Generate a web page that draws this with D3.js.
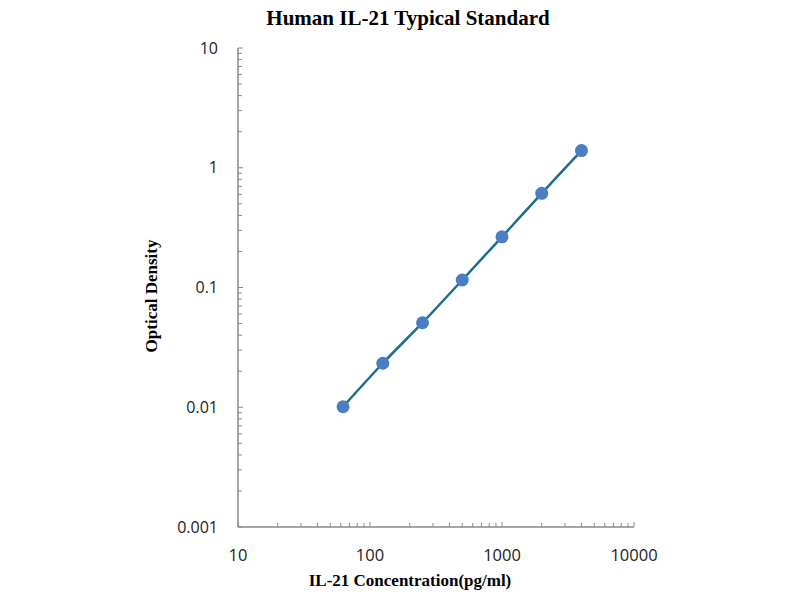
<!DOCTYPE html>
<html>
<head>
<meta charset="utf-8">
<script src="https://cdn.jsdelivr.net/npm/d3@7"></script>
<style>
    body { margin: 0; background: #fff; }
</style>
</head>
<body>
<svg width="800" height="600"></svg>
<script>
    // Data
    const concentration = [62.5, 125, 250, 500, 1000, 2000, 4000]
    const opticalDensity = [0.0101, 0.0233, 0.0508, 0.1155, 0.265, 0.612, 1.39]
    const xTicks = [10, 100, 1000, 10000]
    const yTicks = [0.001, 0.01, 0.1, 1, 10]

    var svg = d3.select("svg")
    var plotLeft = 238, plotRight = 634, plotTop = 48, plotBottom = 527

    var x = d3.scaleLog().domain([10, 10000]).range([plotLeft, plotRight])
    var y = d3.scaleLog().domain([0.001, 10]).range([plotBottom, plotTop])

    // Minor ticks (2..9 within each decade)
    var xMinor = [], yMinor = []
    xTicks.slice(0, -1).forEach(t => { for (var k = 2; k <= 9; k++) xMinor.push(t * k) })
    yTicks.slice(0, -1).forEach(t => { for (var k = 2; k <= 9; k++) yMinor.push(t * k) })

    var axisColor = "#8a8a8a"
    var tickFont = "'Open Sans', sans-serif"

    // y axis
    var gy = svg.append("g").attr("transform", "translate(" + plotLeft + ",0)")
    gy.append("line").attr("y1", plotTop).attr("y2", plotBottom).attr("stroke", axisColor).attr("stroke-width", 1.5)
    gy.selectAll(".minor").data(yMinor).enter().append("line")
        .attr("x1", 0).attr("x2", 4)
        .attr("y1", d => y(d)).attr("y2", d => y(d))
        .attr("stroke", axisColor)
    gy.selectAll(".major").data(yTicks).enter().append("line")
        .attr("x1", 0).attr("x2", 5)
        .attr("y1", d => y(d)).attr("y2", d => y(d))
        .attr("stroke", axisColor)
    gy.selectAll("text").data(yTicks).enter().append("text")
        .attr("x", -20).attr("y", d => y(d)).attr("dy", "0.35em")
        .attr("text-anchor", "end")
        .style("font-family", tickFont).style("font-size", "16px").style("fill", "#222")
        .text(d => String(d))

    // x axis
    var gx = svg.append("g").attr("transform", "translate(0," + plotBottom + ")")
    gx.append("line").attr("x1", plotLeft).attr("x2", plotRight).attr("stroke", axisColor).attr("stroke-width", 1.5)
    gx.selectAll(".minor").data(xMinor).enter().append("line")
        .attr("x1", d => x(d)).attr("x2", d => x(d))
        .attr("y1", 0).attr("y2", -4)
        .attr("stroke", axisColor)
    gx.selectAll(".major").data(xTicks).enter().append("line")
        .attr("x1", d => x(d)).attr("x2", d => x(d))
        .attr("y1", 0).attr("y2", -5)
        .attr("stroke", axisColor)
    gx.selectAll("text").data(xTicks).enter().append("text")
        .attr("x", d => x(d)).attr("y", 34)
        .attr("text-anchor", "middle")
        .style("font-family", tickFont).style("font-size", "16.5px").style("fill", "#222")
        .text(d => String(d))

    // Titles
    svg.append("text")
        .attr("x", 408).attr("y", 25)
        .attr("text-anchor", "middle")
        .style("font-family", "'Liberation Serif', serif").style("font-weight", "bold").style("font-size", "21px")
        .text("Human IL-21 Typical Standard")
    svg.append("text")
        .attr("x", 410).attr("y", 586)
        .attr("text-anchor", "middle")
        .style("font-family", "'Liberation Serif', serif").style("font-weight", "bold").style("font-size", "17px")
        .text("IL-21 Concentration(pg/ml)")
    svg.append("text")
        .attr("transform", "translate(157,296) rotate(-90)")
        .attr("text-anchor", "middle")
        .style("font-family", "'Liberation Serif', serif").style("font-weight", "bold").style("font-size", "17px")
        .text("Optical Density")

    // Curve + points
    var pts = concentration.map((c, i) => [c, opticalDensity[i]])
    var line = d3.line()
        .x(d => x(d[0]))
        .y(d => y(d[1]))
        .curve(d3.curveCatmullRom.alpha(0.5))
    svg.append("path")
        .datum(pts)
        .attr("d", line)
        .attr("fill", "none")
        .attr("stroke", "#1f6b8e")
        .attr("stroke-width", 2.5)
    svg.append("g").selectAll("circle")
        .data(pts).enter().append("circle")
        .attr("cx", d => x(d[0]))
        .attr("cy", d => y(d[1]))
        .attr("r", 6.5)
        .attr("fill", "#4a7ec2")
</script>
</body>
</html>
